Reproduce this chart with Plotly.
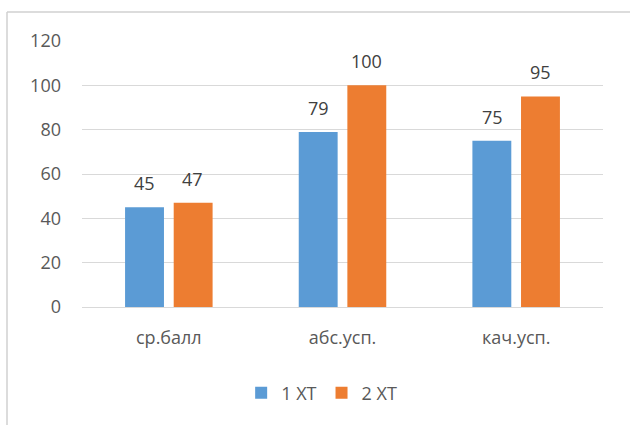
import plotly.graph_objects as go

categories = ["ср.балл", "абс.усп.", "кач.усп."]
series_names = ["1 XT", "2 XT"]
values_1 = [45, 79, 75]
values_2 = [47, 100, 95]
y_ticks = [0, 20, 40, 60, 80, 100, 120]

colors = ["#5B9BD5", "#ED7D31"]
W, H = 630, 425
L, R, T, B = 82, 27, 41, 118
pw, ph = W - L - R, H - T - B

fig = go.Figure()
for name, vals, col in zip(series_names, [values_1, values_2], colors):
    fig.add_trace(go.Bar(x=categories, y=vals, name=name, marker=dict(color=col, line=dict(width=0))))

# data labels
for vals, shift in zip([values_1, values_2], [-24, 24]):
    for c, v in zip(categories, vals):
        fig.add_annotation(x=c, y=v, text=str(v), showarrow=False, xshift=shift,
                           yanchor="bottom", yshift=10,
                           font=dict(size=18, color="#404040"))

def px_x(p):
    return (p - L) / pw

def px_y(p):
    return (H - B - p) / ph

fig.add_shape(type="line", xref="paper", yref="paper", x0=px_x(7), x1=px_x(630), y0=px_y(12), y1=px_y(12),
              line=dict(color="#d0d0d0", width=1.5))
fig.add_shape(type="line", xref="paper", yref="paper", x0=px_x(7), x1=px_x(7), y0=px_y(12), y1=px_y(425),
              line=dict(color="#d0d0d0", width=1.5))

fig.update_layout(
    width=W, height=H,
    margin=dict(l=L, r=R, t=T, b=B, autoexpand=False),
    paper_bgcolor="white", plot_bgcolor="white",
    font=dict(family="Open Sans", size=18, color="#595959"),
    barmode="group", bargap=0.44, bargroupgap=0.2,
    showlegend=True,
    legend=dict(orientation="h", x=0.46, xanchor="center", y=px_y(393), yanchor="middle",
                font=dict(size=18, color="#595959"), itemwidth=30, traceorder="normal"),
    xaxis=dict(showgrid=False, showline=True, linecolor="#d9d9d9", linewidth=1, ticks="",
               ticklabelstandoff=14,
               tickfont=dict(size=18, color="#595959")),
    yaxis=dict(range=[0, 120], tickvals=y_ticks, showgrid=True, gridcolor="#d9d9d9", gridwidth=1,
               zeroline=False, showline=False, ticks="", ticklabelstandoff=20,
               tickfont=dict(size=18, color="#595959")),
)

fig.write_html("out.html", config={"displayModeBar": False},
               post_script="document.body.style.margin='0';")
